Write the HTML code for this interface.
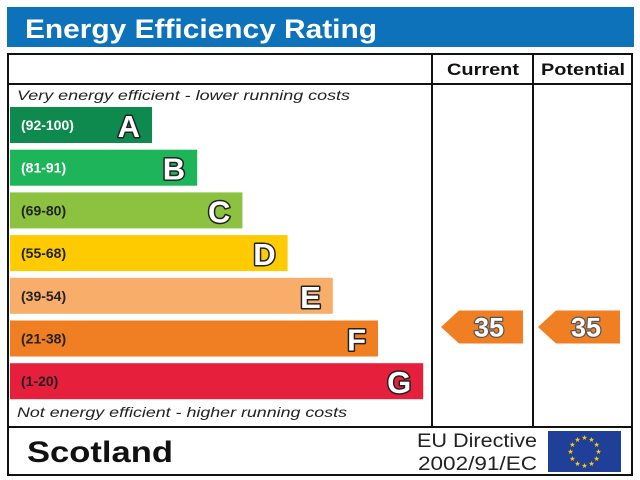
<!DOCTYPE html>
<html><head><meta charset="utf-8"><style>
body{margin:0;background:#fff;width:640px;height:480px;overflow:hidden}
svg{display:block;font-family:"Liberation Sans",Arial,sans-serif}
</style></head><body>
<svg id="c" width="640" height="480" viewBox="0 0 640 480">
<rect x="7" y="7" width="627" height="40" fill="#0d72b9"/>
<text x="25" y="38" font-size="27" font-weight="bold" fill="#fff" textLength="352" lengthAdjust="spacingAndGlyphs">Energy Efficiency Rating</text>
<rect x="8" y="54" width="624" height="421" fill="none" stroke="#111" stroke-width="2"/>
<line x1="8" y1="84" x2="632" y2="84" stroke="#111" stroke-width="2"/>
<line x1="432" y1="54" x2="432" y2="427" stroke="#111" stroke-width="2"/>
<line x1="533" y1="54" x2="533" y2="427" stroke="#111" stroke-width="2"/>
<line x1="8" y1="427" x2="632" y2="427" stroke="#111" stroke-width="2"/>
<text x="447" y="75" font-size="17" font-weight="bold" fill="#111" textLength="72" lengthAdjust="spacingAndGlyphs">Current</text>
<text x="541" y="75" font-size="17" font-weight="bold" fill="#111" textLength="84" lengthAdjust="spacingAndGlyphs">Potential</text>
<text x="17" y="100" font-size="14" font-style="italic" fill="#222" textLength="333" lengthAdjust="spacingAndGlyphs">Very energy efficient - lower running costs</text>
<text x="17" y="417" font-size="14" font-style="italic" fill="#222" textLength="330" lengthAdjust="spacingAndGlyphs">Not energy efficient - higher running costs</text>
<g id="bars"></g>
<g id="arrows"></g>
<text x="27" y="462" font-size="30" font-weight="bold" fill="#111" textLength="146" lengthAdjust="spacingAndGlyphs">Scotland</text>
<text x="417" y="447" font-size="19" fill="#222" textLength="120" lengthAdjust="spacingAndGlyphs">EU Directive</text>
<text x="418" y="470" font-size="19" fill="#222" textLength="119" lengthAdjust="spacingAndGlyphs">2002/91/EC</text>
<rect x="548" y="431" width="73" height="41" fill="#1f3f99"/>
<g id="stars"></g>
</svg>
<script>
const bands=["A","B","C","D","E","F","G"];
const ranges=["(92-100)","(81-91)","(69-80)","(55-68)","(39-54)","(21-38)","(1-20)"];
const colors=["#0e8a4e","#1db45a","#8cc23f","#fecb00","#f8ad6a","#ef7f22","#e51f3c"];
const textColors=["#fff","#fff","#222","#222","#222","#222","#222"];
const currentRating=35;
const potentialRating=35;
const NS="http://www.w3.org/2000/svg";
function mk(t,a){const e=document.createElementNS(NS,t);for(const k in a)e.setAttribute(k,a[k]);return e;}
const bandY=i=>107+i*42.7;
const bandW=i=>142+i*45.2;
const bars=document.getElementById('bars');
bands.forEach((b,i)=>{
  const y=bandY(i),w=bandW(i);
  const r=mk('rect',{x:10,y:y,width:w,height:36,fill:colors[i]});
  
  
  bars.appendChild(r);
  const t=mk('text',{x:21,y:y+23,'font-size':14,'font-weight':'bold',fill:textColors[i]});
  t.textContent=ranges[i];
  
  
  bars.appendChild(t);
  const l=mk('text',{x:10+w-12,y:y+30,'font-size':31,'font-weight':'bold','text-anchor':'end',fill:'#fff',stroke:'#222','stroke-width':3,'paint-order':'stroke','stroke-linejoin':'round'});
  l.textContent=b;
  
  
  bars.appendChild(l);
});
function bandOf(v){const lo=[92,81,69,55,39,21,1];for(let i=0;i<7;i++)if(v>=lo[i])return i;return 6;}
const arrows=document.getElementById('arrows');
[[currentRating,441,'current'],[potentialRating,538,'potential']].forEach(([v,x,n])=>{
  const i=bandOf(v),y=bandY(i)-10,h=33,w=82;
  const p=mk('polygon',{points:`${x},${y+h/2} ${x+18},${y} ${x+w},${y} ${x+w},${y+h} ${x+18},${y+h}`,fill:colors[i]});
  
  
  arrows.appendChild(p);
  const t=mk('text',{x:x+48,y:y+26,'font-size':27,'font-weight':'bold','text-anchor':'middle',fill:'#fff',stroke:'#555','stroke-width':2.5,'paint-order':'stroke','stroke-linejoin':'round'});
  t.textContent=v;
  
  
  arrows.appendChild(t);
});
const st=document.getElementById('stars');
for(let k=0;k<12;k++){const a=k*Math.PI/6;
  const s=mk('text',{x:584.5+14*Math.sin(a),y:454-14*Math.cos(a),'font-size':7,'text-anchor':'middle',fill:'#fc0'});
  s.textContent='★';
  
  
  st.appendChild(s);}
</script>
</body></html>
